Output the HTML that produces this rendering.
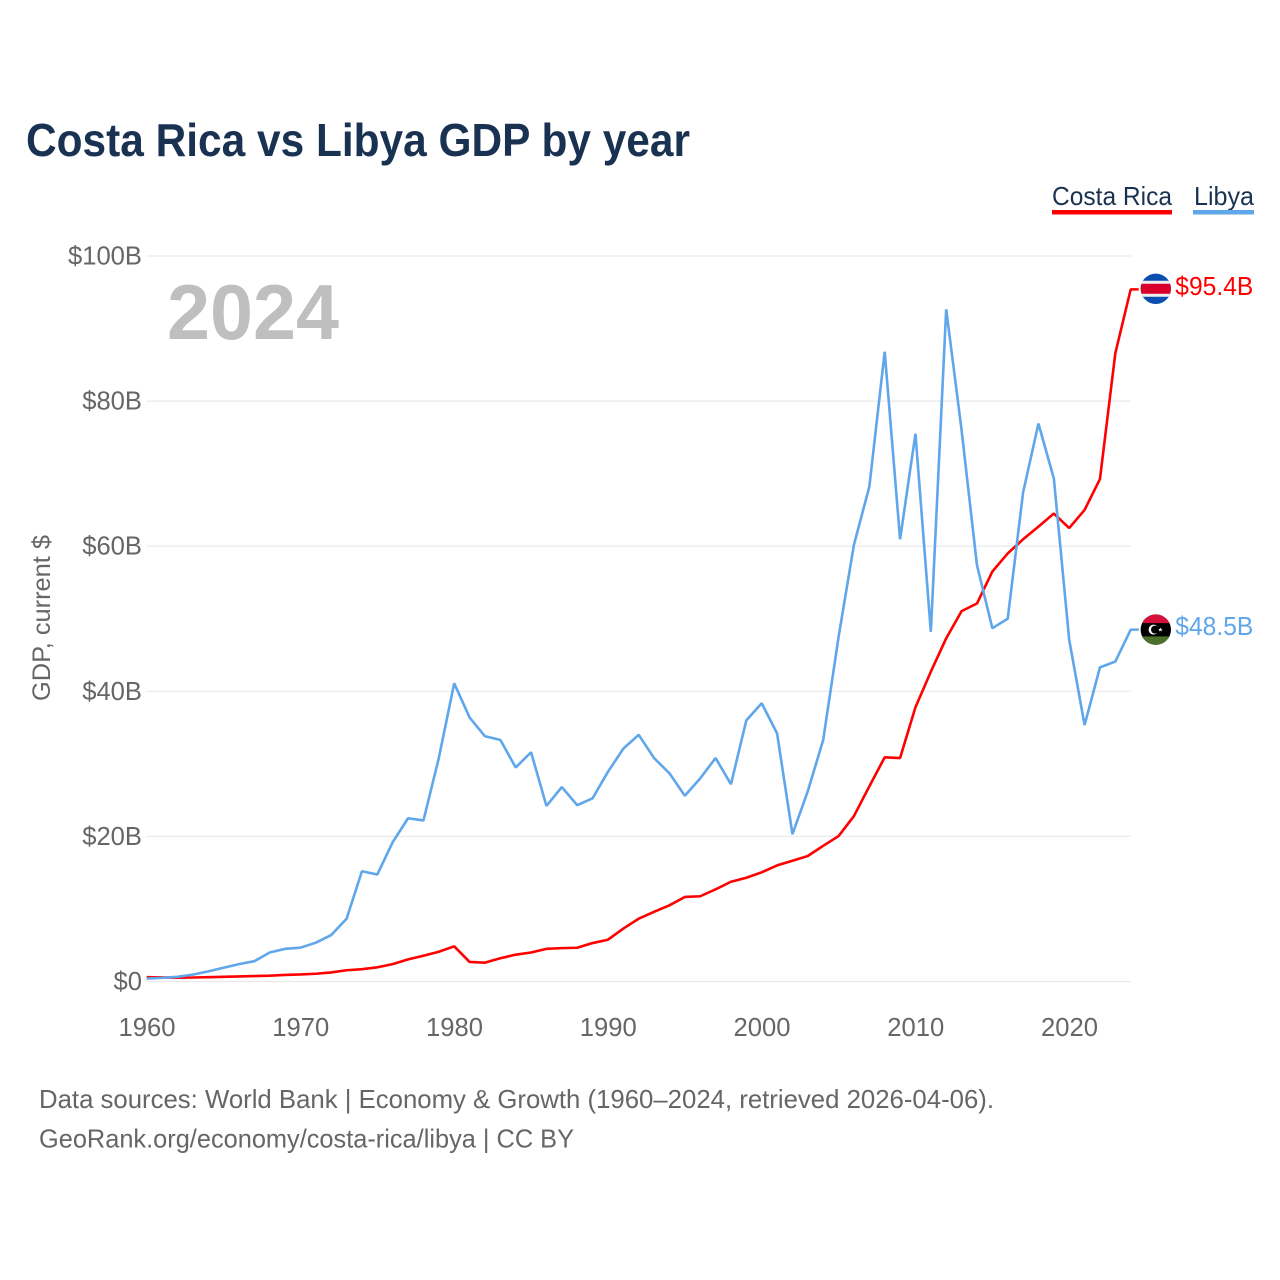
<!DOCTYPE html>
<html lang="en">
<head>
<meta charset="utf-8">
<title>Costa Rica vs Libya GDP by year</title>
<style>
html,body{margin:0;padding:0;background:#fff;}
svg{display:block;}
text{font-family:"Liberation Sans",sans-serif;}
</style>
</head>
<body>
<svg id="chart" xmlns="http://www.w3.org/2000/svg" width="1280" height="1280" viewBox="0 0 1280 1280">
  <rect width="1280" height="1280" fill="#fff"/>
  <text x="26" y="156" font-size="46" font-weight="700" fill="#1a3252" textLength="664" lengthAdjust="spacingAndGlyphs">Costa Rica vs Libya GDP by year</text>
  <g id="grid"></g>
  <g id="yTicks"></g>
  <g id="xTicks"></g>
  <text transform="translate(50,618) rotate(-90)" text-anchor="middle" font-size="25" fill="#666" textLength="166" lengthAdjust="spacingAndGlyphs">GDP, current $</text>
  <text x="167" y="339" font-size="78" font-weight="700" fill="#bfbfbf" textLength="172" lengthAdjust="spacingAndGlyphs">2024</text>

  <g id="series"></g>

  <g>
    <text x="1052" y="205" font-size="26" fill="#1a3252" textLength="120" lengthAdjust="spacingAndGlyphs">Costa Rica</text>
    <rect x="1052" y="210" width="120" height="4.5" fill="#ff0000"/>
  </g>
  <g>
    <text x="1194" y="205" font-size="26" fill="#1a3252" textLength="60" lengthAdjust="spacingAndGlyphs">Libya</text>
    <rect x="1193" y="210" width="61" height="4.5" fill="#5fa6ea"/>
  </g>

  <defs>
    <clipPath id="flagClip"><circle cx="0" cy="0" r="15.2"/></clipPath>
  </defs>
  <g id="flagCR" clip-path="url(#flagClip)">
    <rect x="-16" y="-16" width="32" height="32" fill="#0a4fb0"/>
    <rect x="-16" y="-8" width="32" height="16" fill="#eeeeee"/>
    <rect x="-16" y="-5" width="32" height="10" fill="#d8002a"/>
  </g>
  <g id="flagLY" clip-path="url(#flagClip)">
    <rect x="-16" y="-16" width="32" height="32" fill="#000"/>
    <rect x="-16" y="-16" width="32" height="9.5" fill="#d5103a"/>
    <rect x="-16" y="6.8" width="32" height="9.5" fill="#4a702c"/>
    <circle cx="-2.2" cy="0" r="5" fill="#fff"/>
    <circle cx="-0.8" cy="0" r="4" fill="#000"/>
    <polygon points="4.6,-2 5.3,-0.6 6.8,-0.6 5.6,0.4 6.1,1.9 4.6,1 3.2,1.9 3.6,0.4 2.5,-0.6 4,-0.6" fill="#fff"/>
  </g>
  <g id="endLabels"></g>

  <text x="39" y="1108" font-size="26" fill="#666" textLength="955" lengthAdjust="spacingAndGlyphs">Data sources: World Bank | Economy &amp; Growth (1960–2024, retrieved 2026-04-06).</text>
  <text x="39" y="1147.5" font-size="26" fill="#666" textLength="535" lengthAdjust="spacingAndGlyphs">GeoRank.org/economy/costa-rica/libya | CC BY</text>
</svg>
<script>
const firstYear = 1960;
const yTickValues = [0, 20, 40, 60, 80, 100];
const xTickYears = [1960, 1970, 1980, 1990, 2000, 2010, 2020];
const costaRica = [0.6,0.56,0.52,0.55,0.6,0.65,0.7,0.75,0.8,0.9,0.98,1.07,1.25,1.55,1.7,1.96,2.4,3.05,3.55,4.1,4.85,2.7,2.6,3.2,3.7,4.0,4.5,4.6,4.65,5.3,5.76,7.3,8.65,9.6,10.5,11.65,11.75,12.7,13.75,14.3,15.05,16.0,16.65,17.3,18.7,20.05,22.8,26.9,30.9,30.8,37.8,42.7,47.3,51.05,52.1,56.5,59.0,60.95,62.7,64.5,62.5,65.0,69.25,86.6,95.4];
const libya = [0.4,0.5,0.65,0.95,1.4,1.9,2.4,2.8,4.0,4.5,4.66,5.35,6.4,8.65,15.2,14.75,19.2,22.5,22.2,30.8,41.1,36.4,33.8,33.3,29.5,31.6,24.2,26.8,24.3,25.25,28.9,32.1,34.0,30.8,28.7,25.6,28.0,30.8,27.2,36.0,38.35,34.2,20.3,26.25,33.3,47.5,60.2,68.2,86.8,60.95,75.5,48.2,92.65,76,57.4,48.7,50,67.4,76.9,69.35,47.1,35.35,43.3,44.1,48.5];

const NS = 'http://www.w3.org/2000/svg';
const x = function (year) { return 146.7 + (year - 1960) * (1130.7 - 146.7) / 64; };
const y = function (value) { return 981.5 - value * 7.255; };
const lastYear = firstYear + costaRica.length - 1;

function make(tag, attrs, parent, content) {
  const el = document.createElementNS(NS, tag);
  for (const k in attrs) el.setAttribute(k, attrs[k]);
  if (content !== undefined) el.textContent = content;
  parent.appendChild(el);
  return el;
}

const grid = document.getElementById('grid');
const yTicks = document.getElementById('yTicks');
yTickValues.forEach(function (v) {
  const line = make('line', { x1: 147, x2: 1131, y1: y(v), y2: y(v), stroke: '#e9e9e9', 'stroke-width': 1.2 }, grid);
  
  
  const label = make('text', { x: 142, y: y(v) + 8.5, 'text-anchor': 'end', 'font-size': 25.6, fill: '#666' }, yTicks, '$' + v + (v === 0 ? '' : 'B'));
  
  
});

const xTicks = document.getElementById('xTicks');
xTickYears.forEach(function (yr) {
  const label = make('text', { x: x(yr) + 0.3, y: 1036, 'text-anchor': 'middle', 'font-size': 25.6, fill: '#666' }, xTicks, String(yr));
  
  
});

function toPath(values) {
  return values.map(function (v, i) {
    return (i ? 'L' : 'M') + x(firstYear + i).toFixed(2) + ' ' + y(v).toFixed(2);
  }).join(' ') + ' H' + (x(lastYear) + 8);
}

const series = document.getElementById('series');
const redLine = make('path', { d: toPath(costaRica), fill: 'none', stroke: '#ff0000', 'stroke-width': 2.6, 'stroke-linejoin': 'bevel' }, series);


const blueLine = make('path', { d: toPath(libya), fill: 'none', stroke: '#5fa6ea', 'stroke-width': 2.6, 'stroke-linejoin': 'bevel' }, series);



const endLabels = document.getElementById('endLabels');
const lastCR = costaRica[costaRica.length - 1];
const lastLY = libya[libya.length - 1];
document.getElementById('flagCR').setAttribute('transform', 'translate(1155.8,' + (y(lastCR) - 0.6) + ')');
document.getElementById('flagLY').setAttribute('transform', 'translate(1155.8,' + y(lastLY) + ')');
const labelCR = make('text', { x: 1175.3, y: y(lastCR) + 5.6, 'font-size': 25.6, fill: '#ff0000', textLength: 78, lengthAdjust: 'spacingAndGlyphs' }, endLabels, '$' + lastCR.toFixed(1) + 'B');


const labelLY = make('text', { x: 1175.3, y: y(lastLY) + 5.6, 'font-size': 25.6, fill: '#5fa6ea', textLength: 78, lengthAdjust: 'spacingAndGlyphs' }, endLabels, '$' + lastLY.toFixed(1) + 'B');


</script>
</body>
</html>
